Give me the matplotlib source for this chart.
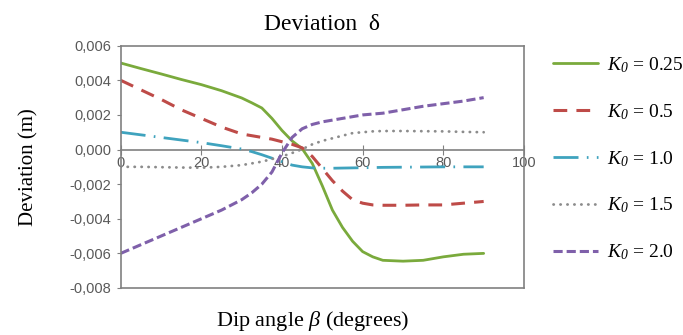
import numpy as np
import matplotlib.pyplot as plt
from matplotlib.ticker import FuncFormatter

plt.rcParams['font.family'] = 'Liberation Serif'
plt.rcParams['mathtext.fontset'] = 'custom'
plt.rcParams['mathtext.rm'] = 'Liberation Serif'
plt.rcParams['mathtext.it'] = 'Liberation Serif:italic'
# italic digits for the K0 subscript
plt.rcParams['mathtext.sf'] = 'Liberation Serif:italic'

# dip angle (degrees)
beta = [0, 5, 10, 15, 20, 25, 30, 32.5, 35, 37.5, 40, 42.5, 45, 47.5, 50,
        52.5, 55, 57.5, 60, 62.5, 65, 70, 75, 80, 85, 90]

# deviation (m) for each K0
k025 = [0.005, 0.00468, 0.00437, 0.00405, 0.00375, 0.0034, 0.00298, 0.0027,
        0.0024, 0.0018, 0.0011, 0.0005, 0.00005, -0.0008, -0.0021, -0.0035,
        -0.0045, -0.0053, -0.0059, -0.0062, -0.0064, -0.00645, -0.0064,
        -0.0062, -0.00605, -0.006]
k05 = [0.004, 0.00345, 0.0029, 0.0023, 0.0018, 0.0013, 0.0009, 0.0008,
       0.0007, 0.0006, 0.00045, 0.0003, 0.0001, -0.0004, -0.0011, -0.0018,
       -0.0024, -0.0029, -0.0031, -0.0032, -0.00322, -0.00322, -0.0032,
       -0.0032, -0.0031, -0.003]
k10 = [0.001, 0.00085, 0.0007, 0.00055, 0.0004, 0.00022, 0.00003, -0.00012,
       -0.0003, -0.0005, -0.0007, -0.0009, -0.001, -0.00106, -0.00108,
       -0.00108, -0.00107, -0.00106, -0.00105, -0.00104, -0.00103, -0.00102,
       -0.00101, -0.001, -0.001, -0.001]
k15 = [-0.001, -0.001, -0.00102, -0.00104, -0.00105, -0.001, -0.0009,
       -0.0008, -0.0007, -0.00055, -0.0004, -0.0002, 0.00002, 0.0003, 0.0005,
       0.00065, 0.0008, 0.00095, 0.001, 0.00105, 0.00107, 0.00107, 0.00106,
       0.00105, 0.00102, 0.001]
k20 = [-0.006, -0.0055, -0.005, -0.0045, -0.004, -0.0035, -0.0029, -0.0025,
       -0.002, -0.0013, -0.0002, 0.0007, 0.0012, 0.00145, 0.0016, 0.0017,
       0.0018, 0.0019, 0.002, 0.00205, 0.0021, 0.0023, 0.0025, 0.00265,
       0.0028, 0.003]

labels = [r'$K_{\mathsf{0}}$ = 0.25', r'$K_{\mathsf{0}}$ = 0.5',
          r'$K_{\mathsf{0}}$ = 1.0', r'$K_{\mathsf{0}}$ = 1.5',
          r'$K_{\mathsf{0}}$ = 2.0']
xticks = [0, 20, 40, 60, 80, 100]
yticks = [-0.008, -0.006, -0.004, -0.002, 0.0, 0.002, 0.004, 0.006]

grey = '#808080'
tickcol = '#595959'

fig = plt.figure(figsize=(6.83, 3.35), dpi=100)
ax = fig.add_axes([0.1767, 0.1403, 0.5905, 0.7233])

l1, = ax.plot(beta, k025, color='#7AAA3C', lw=2.0, solid_capstyle='round',
              solid_joinstyle='round')
l2, = ax.plot(beta, k05, color='#BE4B48', lw=2.2, dashes=(4.5, 3))
l3, = ax.plot(beta, k10, color='#3FA3BE', lw=2.0, dashes=(9, 3, 0.6, 3))
l4, = ax.plot(beta, k15, color='#8C8C8C', lw=2.0, dashes=(0.1, 2.4),
              dash_capstyle='round')
l5, = ax.plot(beta, k20, color='#7F60AA', lw=2.2, dashes=(3, 1.3))

ax.set_xlim(0, 100)
ax.set_ylim(-0.008, 0.006)
ax.set_yticks(yticks)
ax.yaxis.set_major_formatter(
    FuncFormatter(lambda v, p: ('%.3f' % round(v, 4)).replace('.', ',').replace('-0,000', '0,000')))
ax.tick_params(axis='y', direction='out', length=3, color=grey, labelsize=10.5,
               labelcolor=tickcol, pad=4, labelfontfamily='Liberation Sans')
ax.tick_params(axis='x', bottom=False, labelbottom=False)
for s in ax.spines.values():
    s.set_color(grey)
    s.set_linewidth(1.2)

# x axis crossing at y = 0
sec = ax.secondary_xaxis(0.008 / 0.014)
sec.set_alignment('bottom')
sec.set_xticks(xticks)
sec.tick_params(direction='inout', length=7, color=grey, labelsize=10.5,
                labelcolor=tickcol, pad=1, labelfontfamily='Liberation Sans')
sec.spines['bottom'].set_color(grey)
sec.spines['bottom'].set_linewidth(1.2)

ax.set_title('Deviation  δ', fontsize=17, pad=11)
ax.set_ylabel('Deviation (m)', fontsize=15)
ax.yaxis.set_label_coords(-0.205, 0.5)
ax.set_xlabel(r'Dip angle $\beta$ (degrees)', fontsize=16)
ax.xaxis.set_label_coords(0.4756, -0.085)

fig.legend([l1, l2, l3, l4, l5], labels, loc='upper left',
           bbox_to_anchor=(553 / 683, 1 - 55 / 335), frameon=False,
           fontsize=14, handlelength=2.3, handletextpad=0.5,
           labelspacing=1.4, borderpad=0, borderaxespad=0)

fig.savefig('out.png', dpi=100)
